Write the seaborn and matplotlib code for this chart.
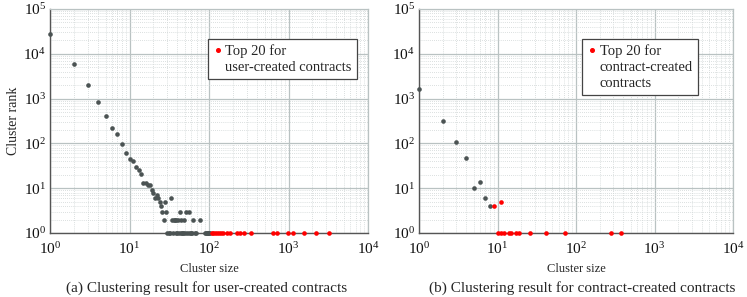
import seaborn as sns
import matplotlib.pyplot as plt
from matplotlib.lines import Line2D
import pandas as pd
import numpy as np

# (a) user-created contracts: cluster size vs number of clusters
user_size = [1, 2, 3, 4, 5, 6, 7, 8, 9, 10, 11, 12, 13, 14, 15, 16, 17, 18,
             19, 20, 21, 22, 23, 24, 25, 26, 27, 28, 29, 33,
             34, 36, 37, 39, 41, 44, 48, 63, 77,
             43, 51, 56,
             30, 31, 32, 35, 38, 40, 42, 45, 46, 47, 49, 52, 54, 58, 60, 62,
             66, 68, 89, 92, 94, 96, 98, 100, 103]
user_rank = [28000, 6000, 2000, 840, 400, 225, 160, 96, 60, 44, 41, 29, 26, 21,
             13, 13, 12, 12, 9, 8, 6, 7, 6, 5, 4, 3, 2, 5, 3, 6,
             2, 2, 2, 2, 2, 2, 2, 2, 2,
             3, 3, 3,
             1, 1, 1, 1, 1, 1, 1, 1, 1, 1, 1, 1, 1, 1, 1, 1,
             1, 1, 1, 1, 1, 1, 1, 1, 1]
user_top_size = [110, 113, 119, 125, 132, 140, 149, 167, 184, 223, 245, 273,
                 337, 644, 711, 994, 1129, 1567, 2218, 3231]
user_top_rank = [1] * 20

# (b) contract-created contracts
ctr_size = [1, 2, 3, 4, 5, 6, 7, 8]
ctr_rank = [1600, 318, 110, 48, 10, 14, 6, 4]
ctr_top_size = [9, 11, 10, 11, 12, 14, 15, 17, 19, 26, 41, 73, 282, 370]
ctr_top_rank = [4, 5, 1, 1, 1, 1, 1, 1, 1, 1, 1, 1, 1, 1]

sns.set_style("white")
plt.rcParams['font.family'] = ['Liberation Serif', 'DejaVu Serif']
plt.rcParams['mathtext.fontset'] = 'custom'
plt.rcParams['mathtext.rm'] = 'Liberation Serif'
plt.rcParams['mathtext.it'] = 'Liberation Serif:italic'

gray = '#4b5353'
red = '#ff0000'

fig = plt.figure(figsize=(7.47, 2.97), dpi=100)
ax1 = fig.add_axes([50/747, 1-233/297, 318/747, 224/297])
ax2 = fig.add_axes([419/747, 1-233/297, 314/747, 224/297])

panels = [
    (ax1, user_size, user_rank, user_top_size, user_top_rank,
     ["Top 20 for", "user-created contracts"],
     "(a) Clustering result for user-created contracts", (0.965, 0.865), 207),
    (ax2, ctr_size, ctr_rank, ctr_top_size, ctr_top_rank,
     ["Top 20 for", "contract-created", "contracts"],
     "(b) Clustering result for contract-created contracts", (0.888, 0.865), 582),
]

for ax, xs, ys, tx, ty, labs, cap, anchor, capx in panels:
    ax.set_xscale('log')
    ax.set_yscale('log')
    ax.set_xlim(1, 1e4)
    ax.set_ylim(1, 1e5)
    ax.grid(True, which='major', color='#b9c2c2', lw=0.9)
    ax.grid(True, which='minor', color='#cfd5d5', lw=0.6, ls=(0, (1, 1.5)))
    ax.set_axisbelow(True)
    sns.scatterplot(x=xs, y=ys, ax=ax, color=gray, s=11, linewidth=0,
                    clip_on=False, zorder=3)
    sns.scatterplot(x=tx, y=ty, ax=ax, color=red, s=11, linewidth=0,
                    clip_on=False, zorder=4)
    ax.tick_params(which='both', length=0, labelsize=11, colors='#111111')
    ax.tick_params(axis='x', pad=6)
    ax.tick_params(axis='y', pad=3)
    for side in ['top', 'right']:
        ax.spines[side].set_color('#b9c2c2')
        ax.spines[side].set_linewidth(0.9)
    for side in ['left', 'bottom']:
        ax.spines[side].set_color('#555555')
        ax.spines[side].set_linewidth(1.0)
    ax.set_xlabel('Cluster size', fontsize=9, labelpad=4)

    handles = [Line2D([], [], ls='', marker='o', ms=2.6, color=red)]
    handles += [Line2D([], [], ls='', marker='') for _ in labs[1:]]
    leg = ax.legend(handles, labs, loc='upper right', bbox_to_anchor=anchor,
                    fontsize=10.5, frameon=True, fancybox=False,
                    edgecolor='#444444', framealpha=1, handletextpad=0.15,
                    handlelength=0.7, borderpad=0.35, labelspacing=0.2,
                    borderaxespad=0)
    leg.get_frame().set_linewidth(0.9)
    fig.text(capx/747, 1-288/297, cap, ha='center', va='center', fontsize=11)

ax1.set_ylabel('Cluster rank', fontsize=10, labelpad=2)

plt.savefig('out.png', dpi=100)
